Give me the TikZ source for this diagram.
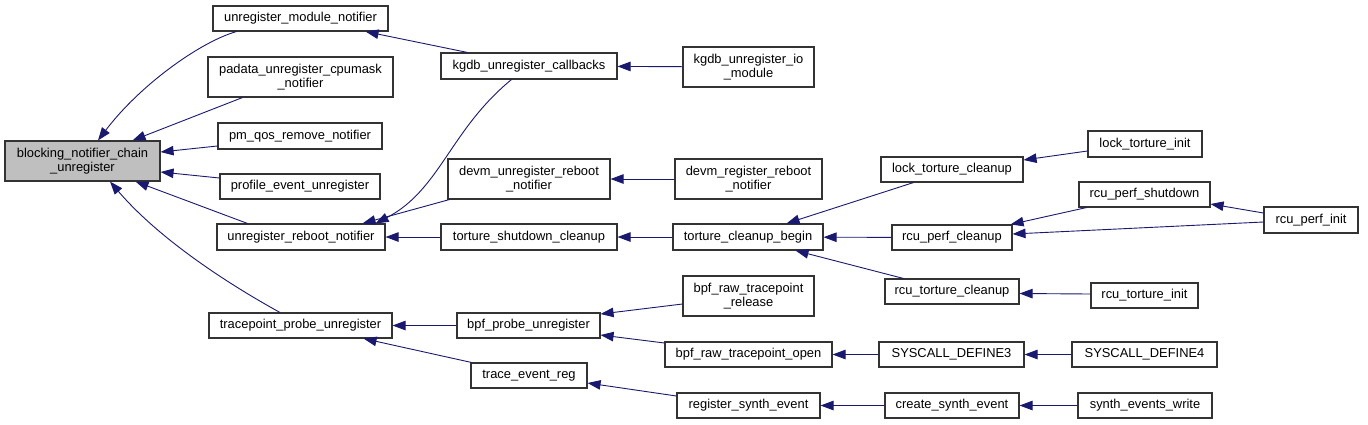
\documentclass[tikz,border=0pt]{standalone}
\usepackage{fontspec}
\setmainfont{Liberation Sans}
\usetikzlibrary{arrows.meta,calc}
\definecolor{edgec}{HTML}{191970}
\definecolor{boxc}{HTML}{333333}
\definecolor{hilite}{HTML}{BFBFBF}
\tikzset{
 box/.style={draw=boxc, line width=1.1bp, fill=white, inner sep=0pt, align=center, font=\fontsize{12.9bp}{14.3bp}\selectfont},
 edge/.style={draw=edgec, line width=0.9bp, -{Triangle[length=13bp,width=9.5bp]}},
}
\newcommand\nd[7][]{\node[box,#1,minimum width=#5bp,minimum height=#6bp] (#2) at (#3,#4) {#7};}
\begin{document}
\begin{tikzpicture}[x=1bp,y=-1bp]
\useasboundingbox[fill=white] (0,0) rectangle (1368,424);
\nd[fill=hilite]{bnc}{82.5}{161}{155}{40}{blocking\_notifier\_chain\\\_unregister}
\nd{umn}{300.5}{18.5}{175}{25}{unregister\_module\_notifier}
\nd{pad}{300.5}{77}{185}{40}{padata\_unregister\_cpumask\\\_notifier}
\nd{pmq}{300}{136}{164}{26}{pm\_qos\_remove\_notifier}
\nd{pev}{300}{186.5}{160}{25}{profile\_event\_unregister}
\nd{urn}{301}{237}{168}{26}{unregister\_reboot\_notifier}
\nd{tpu}{300.5}{325.5}{183}{25}{tracepoint\_probe\_unregister}
\nd{kuc}{529}{66}{176}{26}{kgdb\_unregister\_callbacks}
\nd{kuim}{748.5}{67}{131}{40}{kgdb\_unregister\_io\\\_module}
\nd{dur}{529}{179}{162}{40}{devm\_unregister\_reboot\\\_notifier}
\nd{drr}{748.5}{179}{147}{40}{devm\_register\_reboot\\\_notifier}
\nd{tsc}{529}{237}{176}{26}{torture\_shutdown\_cleanup}
\nd{tcb}{748}{237}{150}{26}{torture\_cleanup\_begin}
\nd{brtr}{748.5}{296}{131}{40}{bpf\_raw\_tracepoint\\\_release}
\nd{bpu}{528.5}{325.5}{143}{25}{bpf\_probe\_unregister}
\nd{brto}{748.5}{354.5}{167}{25}{bpf\_raw\_tracepoint\_open}
\nd{ter}{529}{375.5}{116}{25}{trace\_event\_reg}
\nd{rse}{748.5}{405.5}{143}{25}{register\_synth\_event}
\nd{ltc}{952}{169.5}{142}{25}{lock\_torture\_cleanup}
\nd{lti}{1145}{144}{114}{26}{lock\_torture\_init}
\nd{rps}{1144.5}{194.5}{131}{25}{rcu\_perf\_shutdown}
\nd{rpi}{1311}{220}{94}{26}{rcu\_perf\_init}
\nd{rpc}{952}{237.5}{120}{25}{rcu\_perf\_cleanup}
\nd{rtc}{952}{291.5}{134}{25}{rcu\_torture\_cleanup}
\nd{rti}{1144.5}{295.5}{107}{25}{rcu\_torture\_init}
\nd{sd3}{951.5}{354.5}{145}{25}{SYSCALL\_DEFINE3}
\nd{sd4}{1144.5}{354.5}{145}{25}{SYSCALL\_DEFINE4}
\nd{cse}{952}{405.5}{134}{25}{create\_synth\_event}
\nd{sew}{1145}{405.5}{134}{25}{synth\_events\_write}
% edges
\draw[edge] ($(umn.south west)+(24,0)$) .. controls (200,42) and (140,85) .. ($(bnc.north)+(15.5,0)$);
\draw[edge] ($(pad.south west)+(35,0)$) -- ($(bnc.north east)+(-28,0)$);
\draw[edge] ($(pmq.west)+(0,10)$) -- ($(bnc.east)+(0,-9)$);
\draw[edge] ($(pev.west)+(0,-8.5)$) -- ($(bnc.east)+(0,11)$);
\draw[edge] ($(urn.north west)+(31,0)$) -- ($(bnc.south east)+(-25,0)$);
\draw[edge] ($(tpu.north)+(-20.5,0)$) .. controls (230,285) and (160,240) .. ($(bnc.south)+(27.5,0)$);
\draw[edge] ($(kuc.north west)+(27,0)$) -- ($(umn.south east)+(-23,0)$);
\draw[edge] (kuim) -- (kuc);
\draw[edge] ($(kuc.south west)+(71,0)$) .. controls (450,130) and (440,190) .. ($(urn.north east)+(-10,0)$);
\draw[edge] ($(dur.south west)+(2,0)$) -- ($(urn.north east)+(-23,0)$);
\draw[edge] (drr) -- (dur);
\draw[edge] (tsc) -- (urn);
\draw[edge] (tcb) -- (tsc);
\draw[edge] ($(ltc.south west)+(33,0)$) -- ($(tcb.north east)+(-37,0)$);
\draw[edge] (rpc) -- (tcb);
\draw[edge] ($(rtc.north west)+(19,0)$) -- ($(tcb.south east)+(-28,0)$);
\draw[edge] ($(lti.west)+(0,7)$) -- ($(ltc.east)+(0,-9.5)$);
\draw[edge] ($(rps.south west)+(8,0)$) -- ($(rpc.north east)+(-2,0)$);
\draw[edge] ($(rpi.west)+(0,2)$) -- ($(rpc.east)+(0,-3.5)$);
\draw[edge] ($(rpi.west)+(0,-7)$) -- ($(rps.east)+(0,9.5)$);
\draw[edge] ($(rti.west)+(0,-1.5)$) -- ($(rtc.east)+(0,2)$);
\draw[edge] (bpu) -- (tpu);
\draw[edge] ($(ter.north west)+(1,0)$) -- ($(tpu.south east)+(-29,0)$);
\draw[edge] ($(brtr.west)+(0,8)$) -- ($(bpu.east)+(0,-11.5)$);
\draw[edge] ($(brto.west)+(0,-11.5)$) -- ($(bpu.east)+(0,9.5)$);
\draw[edge] (sd3) -- (brto);
\draw[edge] (sd4) -- (sd3);
\draw[edge] ($(rse.west)+(0,-9.5)$) -- ($(ter.east)+(0,7.5)$);
\draw[edge] (cse) -- (rse);
\draw[edge] (sew) -- (cse);
\end{tikzpicture}
\end{document}
